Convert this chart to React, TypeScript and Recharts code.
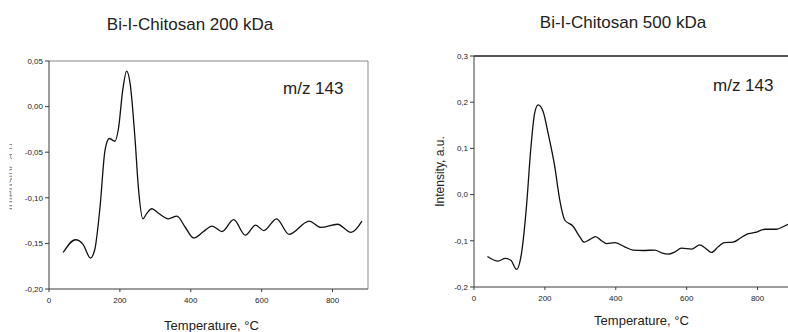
import React from 'react';
import { LineChart, Line, XAxis, YAxis, ReferenceLine, Label } from 'recharts';

// temperature axis, shared by both panels
const tempTicks = [0, 200, 400, 600, 800];

// Bi-I-Chitosan 200 kDa, m/z 143
const temp200 = [40, 75, 96, 117, 129, 144, 158, 170, 186, 196, 208, 219, 229, 243, 252, 265, 276, 290, 309, 337, 361, 384, 408, 436, 460, 488, 521, 554, 583, 606, 642, 677, 734, 767, 814, 852, 883];
const intensity200 = [-0.160, -0.146, -0.151, -0.166, -0.157, -0.110, -0.048, -0.035, -0.038, -0.024, 0.018, 0.039, 0.025, -0.037, -0.088, -0.123, -0.117, -0.112, -0.117, -0.123, -0.120, -0.132, -0.144, -0.137, -0.131, -0.137, -0.124, -0.141, -0.130, -0.136, -0.123, -0.140, -0.1255, -0.1325, -0.129, -0.138, -0.1255];
const yTicks200 = [-0.2, -0.15, -0.1, -0.05, 0, 0.05];

// Bi-I-Chitosan 500 kDa, m/z 143
const temp500 = [38, 68, 88, 104, 120, 134, 148, 160, 171, 181, 195, 209, 228, 242, 256, 280, 298, 311, 327, 343, 360, 374, 397, 425, 449, 477, 510, 529, 548, 567, 585, 614, 637, 653, 670, 689, 706, 731, 750, 769, 793, 821, 854, 873, 887];
const intensity500 = [-0.134, -0.144, -0.138, -0.142, -0.162, -0.127, -0.026, 0.097, 0.176, 0.194, 0.180, 0.133, 0.060, -0.012, -0.055, -0.069, -0.091, -0.103, -0.097, -0.091, -0.100, -0.106, -0.104, -0.113, -0.120, -0.121, -0.120, -0.126, -0.129, -0.124, -0.116, -0.118, -0.109, -0.116, -0.125, -0.113, -0.104, -0.103, -0.095, -0.086, -0.082, -0.075, -0.075, -0.069, -0.064];
const yTicks500 = [-0.2, -0.1, 0, 0.1, 0.2, 0.3];

const data200 = temp200.map((t, i) => ({ t, v: intensity200[i] }));
const data500 = temp500.map((t, i) => ({ t, v: intensity500[i] }));

const FONT = '"Liberation Sans", Arial, sans-serif';
const AXIS = '#3a3a3a';

const comma = (digits: number) => (v: number) => {
  const s = (Math.abs(v) < 1e-9 ? 0 : v).toFixed(digits);
  return s.replace('.', ',');
};

const tickStyle = { fontSize: 8, fill: '#222', fontFamily: FONT };

const xTitle = (dx: number, dy: number) => (props: any) => {
  const vb = props.viewBox;
  return (
    <text x={vb.x + vb.width / 2 + dx} y={vb.y + dy} textAnchor="middle" dominantBaseline="central"
      fontSize={13} fill="#222" fontFamily={FONT}>
      Temperature, °C
    </text>
  );
};

const yTitle = (cx: number, clip?: [number, number]) => (props: any) => {
  const vb = props.viewBox;
  const cy = vb.y + vb.height / 2;
  const id = 'ylabclip' + Math.round(cx);
  return (
    <g>
      {clip && (
        <defs>
          <clipPath id={id}>
            <rect x={clip[0]} y={0} width={clip[1] - clip[0]} height={400} />
          </clipPath>
        </defs>
      )}
      <g clipPath={clip ? `url(#${id})` : undefined}>
        <text x={cx} y={cy} transform={`rotate(-90 ${cx} ${cy})`} textAnchor="middle" dominantBaseline="central"
          fontSize={12} fill={clip ? '#888' : '#222'} fontFamily={FONT}>
          Intensity, a.u.
        </text>
      </g>
    </g>
  );
};

const title: React.CSSProperties = {
  position: 'absolute', width: 300, textAlign: 'center', fontSize: 17, lineHeight: '20px', color: '#222', fontFamily: FONT,
};
const mz: React.CSSProperties = {
  position: 'absolute', fontSize: 17, lineHeight: '20px', color: '#222', fontFamily: FONT, whiteSpace: 'nowrap',
};

export default function App() {
  return (
    <div style={{ position: 'absolute', left: 0, top: 0, width: 788, height: 332, overflow: 'hidden', background: '#fff' }}>
      <div style={{ ...title, left: 190 - 150, top: 15 }}>Bi-I-Chitosan 200 kDa</div>
      <div style={{ ...title, left: 623 - 150, top: 13 }}>Bi-I-Chitosan 500 kDa</div>

      <div style={{ position: 'absolute', left: 0, top: 0 }}>
        <LineChart width={394} height={332} data={data200} margin={{ top: 61, right: 26, bottom: 0, left: 9 }}>
          <XAxis dataKey="t" type="number" domain={[0, 900]} ticks={tempTicks} height={43}
            tick={tickStyle} tickSize={3} tickMargin={5} stroke={AXIS} allowDataOverflow>
            <Label content={xTitle(3, 36)} />
          </XAxis>
          <YAxis type="number" domain={[-0.2, 0.05]} ticks={yTicks200} width={40} tickFormatter={comma(2)}
            tick={tickStyle} tickSize={4} tickMargin={2} stroke={AXIS} allowDataOverflow>
            <Label content={yTitle(10, [9.5, 12])} />
          </YAxis>
          <ReferenceLine y={0.05} stroke="#888" strokeWidth={1} />
          <ReferenceLine x={900} stroke="#888" strokeWidth={1} />
          <Line type="monotone" dataKey="v" stroke="#111" strokeWidth={1.3} dot={false} isAnimationActive={false} />
        </LineChart>
      </div>

      <div style={{ position: 'absolute', left: 394, top: 0 }}>
        <LineChart width={400} height={332} data={data500} margin={{ top: 56, right: 1, bottom: 0, left: 20 }}>
          <XAxis dataKey="t" type="number" domain={[0, 900]} ticks={tempTicks} height={45}
            tick={tickStyle} tickSize={3} tickMargin={5} stroke={AXIS} allowDataOverflow>
            <Label content={xTitle(8, 33)} />
          </XAxis>
          <YAxis type="number" domain={[-0.2, 0.3]} ticks={yTicks500} width={60} tickFormatter={comma(1)}
            tick={tickStyle} tickSize={4} tickMargin={2} stroke={AXIS} allowDataOverflow>
            <Label content={yTitle(46)} />
          </YAxis>
          <ReferenceLine y={0.3} stroke="#555" strokeWidth={2} />
          <Line type="monotone" dataKey="v" stroke="#111" strokeWidth={1.3} dot={false} isAnimationActive={false} />
        </LineChart>
      </div>

      <div style={{ ...mz, left: 283, top: 79 }}>m/z 143</div>
      <div style={{ ...mz, left: 713, top: 76 }}>m/z 143</div>
    </div>
  );
}
